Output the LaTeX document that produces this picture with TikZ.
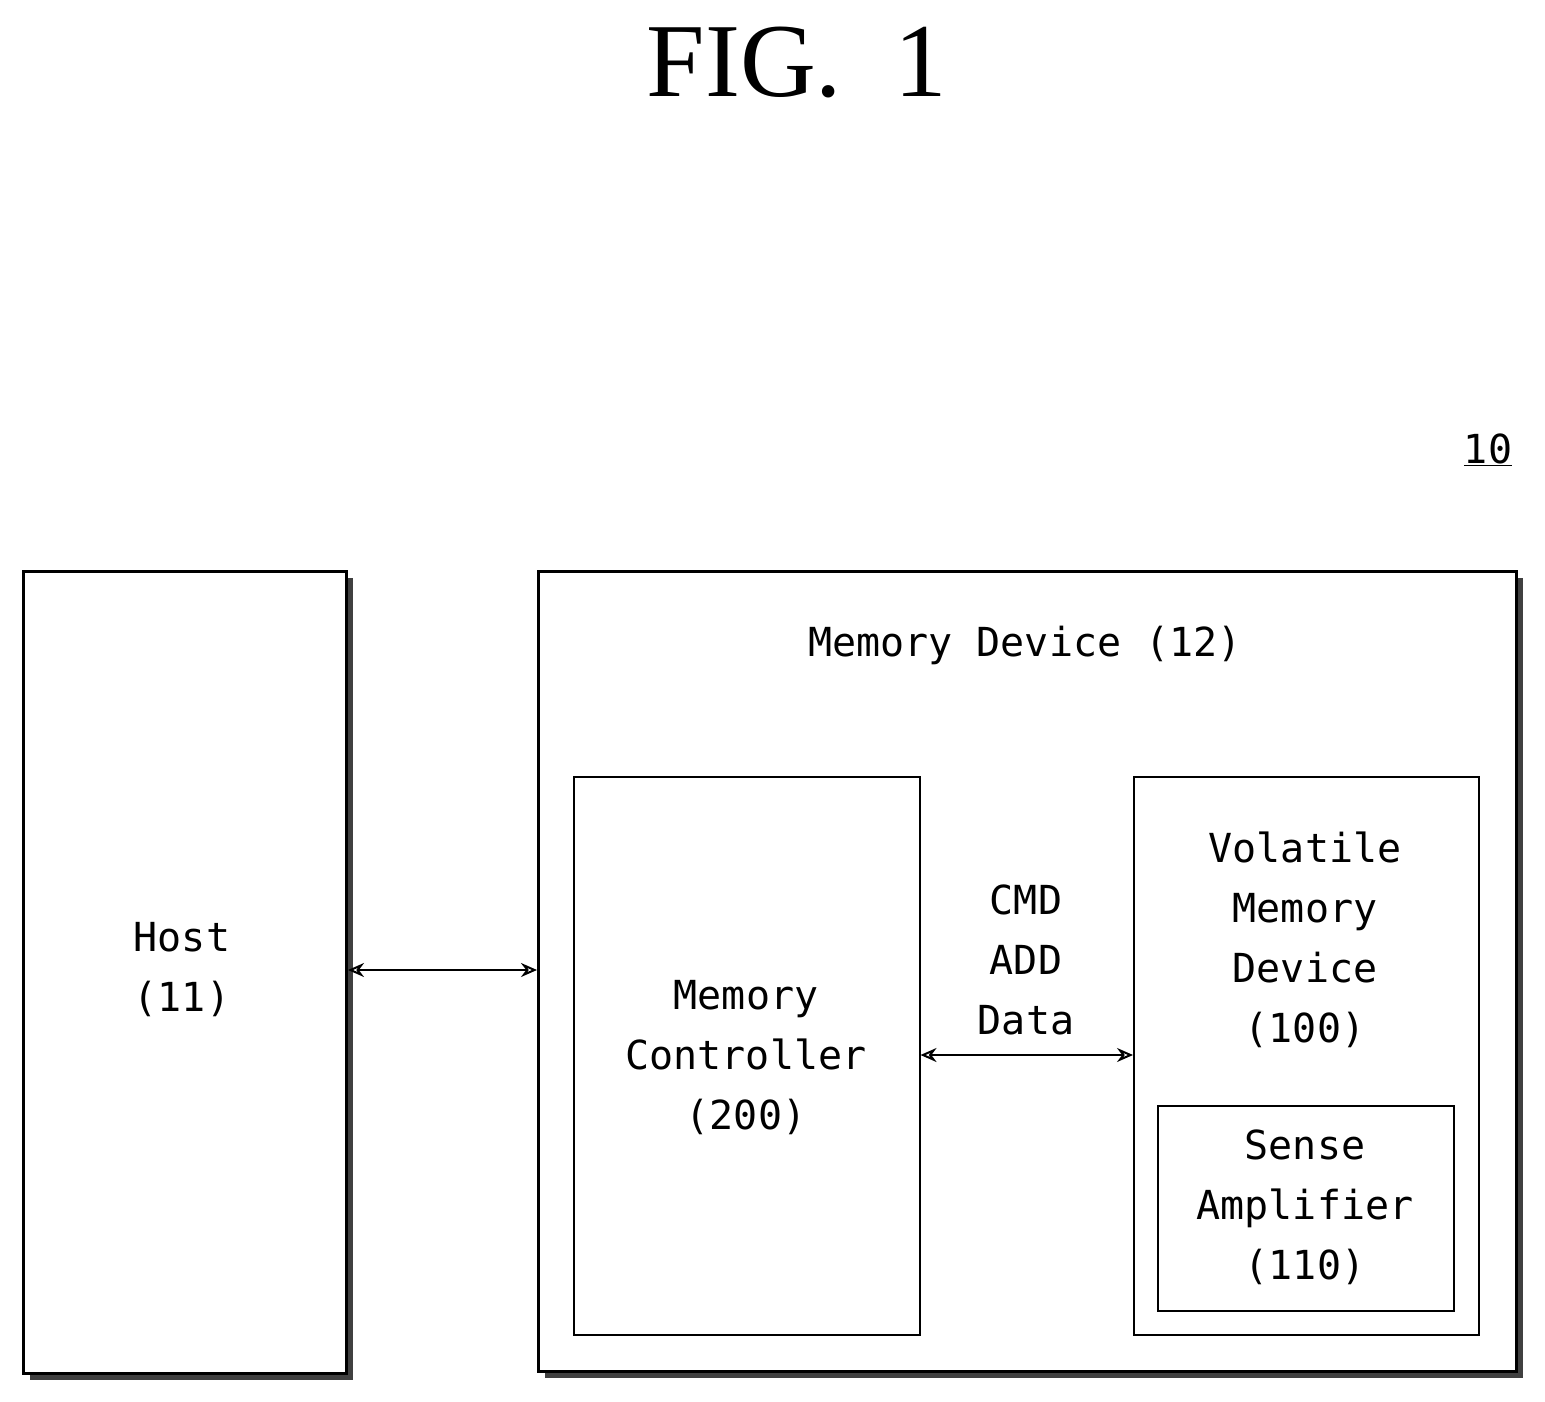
\documentclass[tikz,border=0pt]{standalone}
\usepackage{fontspec}
\usetikzlibrary{arrows.meta}
\setmainfont{DejaVu Sans Mono}
\newfontfamily\titlefont{Liberation Serif}
\begin{document}
\begin{tikzpicture}[x=1pt,y=-1pt,
 thick box/.style={draw,line width=3pt},
 thin box/.style={draw,line width=1.5pt},
 shadow/.style={fill=black!75,draw=none},
 lbl/.style={font=\fontsize{40}{60}\selectfont,align=center},
 arr/.style={line width=2pt,{Stealth[length=16pt,width=14pt,open]}-{Stealth[length=16pt,width=14pt,open]}}]
\useasboundingbox (0,0) rectangle (1545,1402);
\node[font=\titlefont\fontsize{105}{105}\selectfont] (title) at (797,62) {FIG.~~1};
\node[lbl,font=\fontsize{40}{40}\selectfont] (ten) at (1488,450) {\underline{10}};
% shadows
\fill[shadow] (30,578) rectangle (353,1380);
\fill[shadow] (545,578) rectangle (1523,1378);
\node[thick box,fill=white,minimum width=323,minimum height=802,anchor=north west,inner sep=0] (host) at (22,570) {};
\node[lbl] at (182,970) {Host\\(11)};
\node[thick box,fill=white,minimum width=978,minimum height=800,anchor=north west,inner sep=0] (dev) at (537,570) {};
\node[lbl] (devl) at (1025,645) {Memory Device (12)};
\node[thin box,minimum width=346,minimum height=558,anchor=north west,inner sep=0] (mc) at (573,776) {};
\node[lbl] at (746,1058) {Memory\\Controller\\(200)};
\node[thin box,minimum width=345,minimum height=558,anchor=north west,inner sep=0] (vm) at (1133,776) {};
\node[lbl] at (1305,940) {Volatile\\Memory\\Device\\(100)};
\node[thin box,minimum width=296,minimum height=205,anchor=north west,inner sep=0] (sa) at (1157,1105) {};
\node[lbl] at (1305,1207) {Sense\\Amplifier\\(110)};
\node[lbl] (cmd) at (1026,960) {CMD\\ADD\\Data};
\draw[arr] (host.east|-0,970) -- (dev.west|-0,970);
\draw[arr] (mc.east|-0,1055) -- (vm.west|-0,1055);
\end{tikzpicture}
\end{document}
